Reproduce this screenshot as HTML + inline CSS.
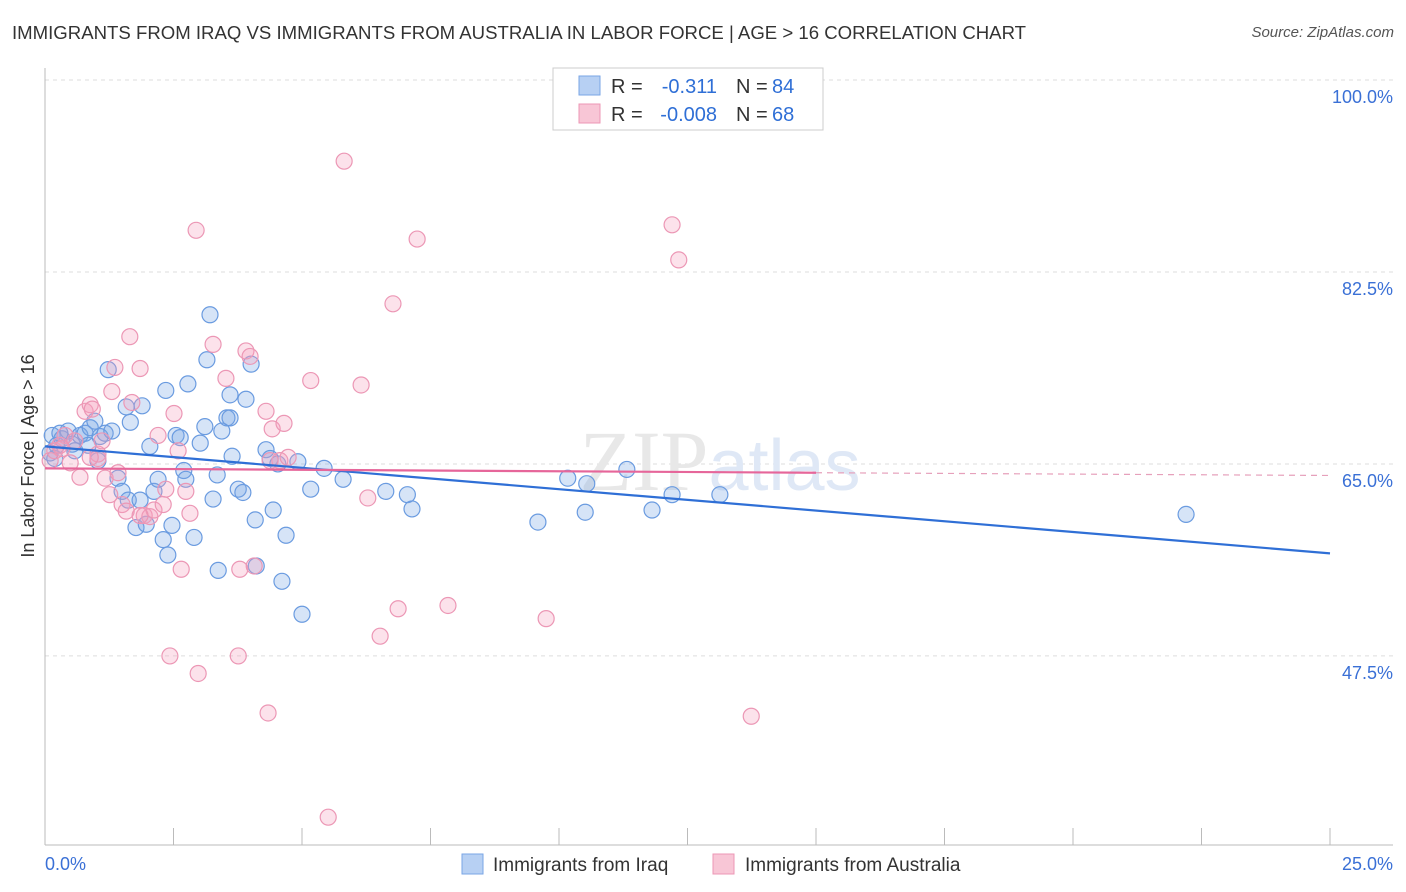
<!DOCTYPE html>
<html><head><meta charset="utf-8"><style>
body{margin:0;background:#fff;font-family:"Liberation Sans",sans-serif;}
#wrap{position:relative;width:1406px;height:892px;overflow:hidden;}
.t{position:absolute;white-space:nowrap;}
</style></head><body>
<div id="wrap">
<div class="t" style="left:12px;top:22px;font-size:18.6px;color:#333;">IMMIGRANTS FROM IRAQ VS IMMIGRANTS FROM AUSTRALIA IN LABOR FORCE | AGE &gt; 16 CORRELATION CHART</div>
<div class="t" style="right:12px;top:24px;font-size:15px;color:#555;font-style:italic;">Source: ZipAtlas.com</div>
<svg id="svg" width="1406" height="892" style="position:absolute;left:0;top:0"></svg>
</div>
<script>
const blueX=[0.14,0.23,0.33,0.45,0.53,0.68,0.78,0.88,0.97,1.07,1.17,1.23,1.3,1.42,1.5,1.58,1.62,1.66,1.77,1.85,1.89,1.97,2.04,2.12,2.2,2.3,2.35,2.39,2.47,2.55,2.63,2.7,2.74,2.78,2.9,3.02,3.11,3.15,3.21,3.27,3.35,3.37,3.44,3.54,3.6,3.64,3.76,3.85,3.91,4.01,4.09,4.11,4.3,4.38,4.44,4.53,4.61,4.69,4.92,5.0,5.17,5.43,5.8,6.63,7.05,7.14,9.59,10.17,10.54,10.51,11.32,11.81,12.2,13.13,22.2,0.1,0.19,0.58,0.29,0.84,1.03,3.6];
const blueY=[67.6,66.7,67.3,68.0,66.8,67.6,67.8,68.3,68.9,67.5,67.8,73.6,68.0,63.7,62.5,70.2,61.7,68.8,59.2,61.7,70.3,59.5,66.6,62.5,63.6,58.1,71.7,56.7,59.4,67.6,67.4,64.4,63.6,72.3,58.3,66.9,68.4,74.5,78.6,61.8,64.0,55.3,68.0,69.2,71.3,65.7,62.7,62.4,70.9,74.1,59.9,55.7,66.3,65.5,60.8,65.0,54.3,58.5,65.2,51.3,62.7,64.6,63.6,62.5,62.2,60.9,59.7,63.7,63.2,60.6,64.5,60.8,62.2,62.2,60.4,66.0,65.5,66.2,67.8,66.7,65.3,69.2];
const pinkX=[0.1,0.19,0.29,0.39,0.49,0.58,0.68,0.78,0.88,0.92,1.03,1.11,1.17,1.26,1.36,1.42,1.5,1.58,1.65,1.69,1.85,1.93,2.04,2.12,2.2,2.3,2.35,2.43,2.51,2.59,2.65,2.74,2.82,2.94,2.98,3.27,3.52,3.76,3.79,3.91,4.07,4.3,4.34,4.42,4.57,4.65,4.73,5.17,5.51,5.82,6.15,6.28,6.52,6.77,6.87,7.24,7.84,9.75,12.2,12.33,13.74,1.3,1.03,1.85,0.33,0.88,3.99,4.38];
const pinkY=[65.3,66.2,66.7,67.6,65.1,67.1,63.8,69.8,70.4,70.0,65.9,67.1,63.7,62.2,73.8,64.2,61.3,60.7,76.6,70.6,73.7,60.3,60.2,60.8,67.6,61.3,62.7,47.5,69.6,66.2,55.4,62.5,60.5,86.3,45.9,75.9,72.8,47.5,55.4,75.3,55.7,69.8,42.3,68.2,65.3,68.7,65.6,72.6,32.8,92.6,72.2,61.9,49.3,79.6,51.8,85.5,52.1,50.9,86.8,83.6,42.0,71.6,65.5,60.3,66.4,65.6,74.8,65.3];
const sx=v=>45+v/25*1285, sy=v=>80+(100-v)*10.97;
const svg=document.getElementById('svg');const NS='http://www.w3.org/2000/svg';
function mk(t,a,p){const e=document.createElementNS(NS,t);for(const k in a)e.setAttribute(k,a[k]);(p||svg).appendChild(e);return e;}
const yTicks=[100,82.5,65,47.5];
yTicks.forEach(v=>{const l=mk('line',{x1:45,x2:1393,y1:sy(v),y2:sy(v),stroke:'#ddd','stroke-dasharray':'4,4'});


const t=mk('text',{x:1393,y:sy(v)+23,'text-anchor':'end','font-size':18,fill:'#3a70d6','font-family':'Liberation Sans'});t.textContent=v.toFixed(1)+'%';

});
mk('line',{x1:45,x2:45,y1:68,y2:845,stroke:'#bbb'});
mk('line',{x1:45,x2:1393,y1:845,y2:845,stroke:'#bbb'});
for(let i=1;i<=10;i++){const l=mk('line',{x1:sx(i*2.5),x2:sx(i*2.5),y1:828,y2:845,stroke:'#bbb'});

}
const wm=mk('text',{x:720,y:490,'text-anchor':'middle','font-size':86,fill:'#e8e8e8','font-family':'Liberation Serif'});wm.innerHTML='ZIP<tspan fill="#dfe8f6" font-family="Liberation Sans" font-size="72">atlas</tspan>';


const xl=mk('text',{x:45,y:870,'font-size':18,fill:'#3a70d6','font-family':'Liberation Sans'});xl.textContent='0.0%';


const xr=mk('text',{x:1393,y:870,'text-anchor':'end','font-size':18,fill:'#3a70d6','font-family':'Liberation Sans'});xr.textContent='25.0%';


const yt=mk('text',{x:34,y:456,'text-anchor':'middle','font-size':18,fill:'#333','font-family':'Liberation Sans',transform:'rotate(-90 34 456)'});yt.textContent='In Labor Force | Age > 16';


blueX.forEach((x,i)=>{const c=mk('circle',{cx:sx(x),cy:sy(blueY[i]),r:8,fill:'rgba(120,165,230,0.3)',stroke:'#6a9be0','stroke-width':1.2});

});
pinkX.forEach((x,i)=>{const c=mk('circle',{cx:sx(x),cy:sy(pinkY[i]),r:8,fill:'rgba(245,160,190,0.3)',stroke:'#ec97b5','stroke-width':1.2});

});
const bl=mk('line',{x1:sx(0),y1:sy(66.6),x2:sx(25),y2:sy(56.85),stroke:'#2f6fd6','stroke-width':2.2});


const pl=mk('line',{x1:sx(0),y1:sy(64.6),x2:sx(15),y2:sy(64.2),stroke:'#e6669a','stroke-width':2.2});


const pd=mk('line',{x1:sx(15),y1:sy(64.2),x2:sx(25),y2:sy(63.95),stroke:'#e6a0bb','stroke-width':1.2,'stroke-dasharray':'6,5'});


const lg=mk('g',{});


mk('rect',{x:553,y:68,width:270,height:62,fill:'#fff',stroke:'#ccc'},lg);
mk('rect',{x:579,y:76,width:21,height:19,fill:'#b7d0f3',stroke:'#7aa6e6'},lg);
mk('rect',{x:579,y:104,width:21,height:19,fill:'#f8c6d6',stroke:'#ec97b5'},lg);
function lt(x,y,s,c,a){const t=mk('text',{x:x,y:y,'font-size':20,fill:c,'font-family':'Liberation Sans','text-anchor':a||'start'},lg);t.textContent=s;return t;}
lt(611,93,'R =','#333');lt(717,93,'-0.311','#2f6fd6','end');lt(736,93,'N =','#333');lt(772,93,'84','#2f6fd6');
lt(611,121,'R =','#333');lt(717,121,'-0.008','#2f6fd6','end');lt(736,121,'N =','#333');lt(772,121,'68','#2f6fd6');
mk('rect',{x:462,y:854,width:21,height:20,fill:'#b7d0f3',stroke:'#7aa6e6'});
const b1=mk('text',{x:493,y:871,'font-size':19,fill:'#333','font-family':'Liberation Sans'});b1.textContent='Immigrants from Iraq';


mk('rect',{x:713,y:854,width:21,height:20,fill:'#f8c6d6',stroke:'#ec97b5'});
const b2=mk('text',{x:745,y:871,'font-size':19,fill:'#333','font-family':'Liberation Sans'});b2.textContent='Immigrants from Australia';


</script>
</body></html>
